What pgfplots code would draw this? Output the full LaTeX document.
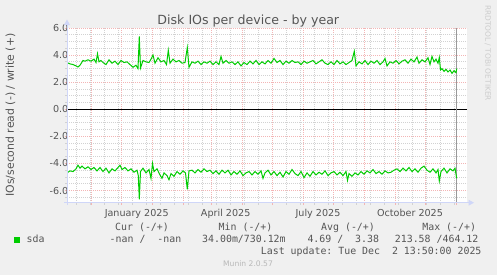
\documentclass[border=0pt]{standalone}
\usepackage{pgfplots}
\pgfplotsset{compat=1.18}
\usepackage{fontspec}
\setmainfont{DejaVu Sans}
\setmonofont{DejaVu Sans Mono}
\definecolor{bg}{HTML}{F0F0F0}
\definecolor{fnt}{HTML}{555555}
\definecolor{axisc}{HTML}{CFD6F8}
\definecolor{mgrid}{HTML}{F3B5B5}
\definecolor{mingrid}{HTML}{D2D2D2}
\definecolor{sda}{HTML}{00CC00}
\definecolor{rrdc}{HTML}{CCCCCC}
\definecolor{vrule}{HTML}{999999}
\begin{document}
\begin{tikzpicture}[x=1bp,y=1bp]
\fill[bg] (0,0) rectangle (497,275);
\begin{axis}[
  at={(67bp,72.3bp)}, anchor=south west,
  width=400bp, height=174.7bp, scale only axis,
  xmin=0, xmax=400, ymin=-6.9, ymax=6,
  axis background/.style={fill=white},
  axis x line*=bottom, axis y line*=left,
  axis line style={draw=none},
  xtick={24,54,85,116,144,175,205,236,266,297,328,358,389},
  xticklabels={},
  minor xtick={9.7,23.7,...,387.7},
  ytick={-6,-4,-2,0,2,4,6},
  yticklabels={-6.0,-4.0,-2.0,0.0,2.0,4.0,6.0},
  minor ytick={-6.5,-5.5,-5,-4.5,-3.5,-3,-2.5,-1.5,-1,-0.5,0.5,1,1.5,2.5,3,3.5,4.5,5,5.5},
  grid=both,
  major grid style={mgrid, line width=0.8bp, dash pattern=on 1bp off 1bp},
  minor grid style={mingrid, line width=0.8bp, dash pattern=on 1bp off 1bp},
  tick align=outside,
  major tick length=2.5bp, minor tick length=2bp,
  major tick style={mgrid, line width=0.8bp},
  minor tick style={mingrid, line width=0.8bp},
  tick label style={font=\fontsize{9.6bp}{11bp}\selectfont, text=fnt},
  yticklabel style={inner sep=0pt, xshift=4bp},
  extra x ticks={69.7,158.7,251,343},
  extra x tick labels={January 2025,April 2025,July 2025,October 2025},
  extra x tick style={grid=none, major tick length=0pt, xticklabel style={anchor=base, yshift=-13.5bp, inner sep=0pt}},
]
\addplot[black, line width=1bp] coordinates {(0,0) (400,0)};
\addplot[vrule, line width=1bp] coordinates {(389.7,-6.9) (389.7,6)};
% write (+)
\addplot[sda, line width=1bp, mark=none] coordinates {
(0,3.45) (3,3.35) (6,3.3) (9,3.2) (11,3.12) (13,3.25) (16,3.6) (18,3.55) (21,3.65) (24,3.55)
(27,3.7) (29,3.45) (30.5,4.1) (32,3.5) (34,3.6) (36,3.45) (39,3.3) (42,3.65) (45,3.4) (48,3.55)
(51,3.3) (54,3.6) (57,3.45) (60,3.5) (63,3.3) (66,3.1) (69,3.25) (71,3.0) (72.3,5.38) (73.5,3.05)
(76,3.6) (79,3.5) (82,3.45) (84,3.7) (86,4.0) (88,3.4) (91,3.8) (94,3.5) (97,3.6) (99.5,3.3)
(101.3,4.35) (103,3.4) (106,3.7) (109,3.5) (112,3.6) (115,3.4) (118,3.45) (120.3,4.55) (122,3.1) (125,3.5)
(128,3.4) (131,3.55) (134,3.3) (137,3.5) (140,3.4) (143,3.55) (146,3.3) (149,3.5) (152,3.3) (154,3.9)
(156,3.4) (159,3.6) (162,3.4) (165,3.5) (168,3.3) (171,3.5) (174,3.2) (177,3.45) (180,3.3) (183,3.55)
(186,3.35) (189,3.6) (192,3.3) (195,3.5) (198,3.35) (201,3.6) (204,3.4) (207,3.75) (210,3.45) (213,3.6)
(216,3.3) (219,3.55) (222,3.4) (225,3.6) (228,3.45) (231,3.5) (234,3.3) (237,3.55) (240,3.4) (243,3.5)
(246,3.6) (249,3.35) (252,3.5) (255,3.65) (258,3.4) (261,3.3) (264,3.5) (267,3.3) (270,3.6) (273,3.35)
(276,3.5) (279,3.3) (282,3.45) (285,3.6) (287.3,4.28) (289,3.2) (292,3.5) (295,3.35) (298,3.6) (301,3.3)
(304,3.55) (307,3.4) (310,3.6) (313,3.3) (316,3.5) (318,3.75) (320,3.2) (323,3.5) (326,3.4) (329,3.6)
(332,3.35) (335,3.55) (338,3.65) (341,3.4) (344,3.7) (347,3.5) (350,3.85) (352,3.4) (355,3.65) (358,3.5)
(361,3.8) (363,3.3) (365,3.9) (367,3.5) (369,3.7) (371,3.4) (372.3,3.82) (373.5,2.9) (375,3.0) (377,2.8)
(379,2.95) (381,2.75) (383,2.9) (385,2.65) (387,2.85) (389,2.7) (389.7,3.0)
};
% read (-)
\addplot[sda, line width=1bp, mark=none] coordinates {
(0,-4.7) (3,-4.55) (6,-4.6) (9,-4.4) (11,-4.13) (13,-4.35) (15,-4.2) (18,-4.4) (21,-4.25) (24,-4.45)
(27,-4.3) (30,-4.55) (33,-4.3) (36,-4.6) (39,-4.35) (42,-4.7) (45,-4.4) (48,-4.55) (51,-4.3) (53,-4.13)
(55,-4.45) (58,-4.3) (61,-4.55) (64,-4.4) (67,-4.65) (70,-4.5) (71.3,-4.9) (72.3,-6.66) (73.5,-4.6) (76,-4.35)
(79,-4.7) (82,-4.45) (84,-5.1) (85.5,-4.0) (87,-4.6) (90,-4.4) (93,-4.85) (95,-5.1) (97,-4.7) (100,-4.9)
(102,-5.2) (104,-4.75) (107,-4.95) (110,-4.6) (113,-4.8) (116,-4.55) (118.5,-4.7) (120.3,-5.92) (122,-4.55) (125,-4.5)
(128,-4.7) (131,-4.45) (134,-4.65) (137,-4.4) (140,-4.6) (143,-4.5) (146,-4.75) (149,-4.55) (152,-4.8) (155,-4.5)
(158,-4.7) (161,-4.5) (164,-4.85) (167,-4.6) (170,-4.8) (173,-4.55) (176,-4.9) (179,-4.7) (182,-4.6) (185,-4.85)
(188,-4.6) (191,-4.8) (194,-4.55) (196,-5.1) (198,-4.7) (201,-4.5) (204,-4.85) (207,-4.6) (210,-4.9) (213,-4.65)
(216,-5.0) (219,-4.6) (222,-4.8) (225,-4.45) (228,-4.75) (231,-4.9) (234,-4.6) (237,-5.05) (240,-4.7) (243,-4.95)
(246,-4.6) (249,-4.85) (252,-4.65) (255,-4.8) (258,-4.55) (261,-4.9) (264,-4.7) (267,-4.6) (270,-4.85) (273,-4.65)
(276,-4.9) (279,-4.6) (280.5,-5.25) (282,-4.75) (285,-4.95) (288,-4.7) (291,-4.85) (294,-4.6) (297,-4.8) (300,-4.55)
(303,-4.7) (306,-4.45) (309,-4.75) (312,-4.6) (315,-4.8) (318,-4.55) (321,-4.7) (324,-4.65) (327,-4.5) (330,-4.4)
(333,-4.6) (336,-4.35) (339,-4.55) (342,-4.3) (345,-4.6) (348,-4.4) (351,-4.65) (354,-4.35) (357,-4.2) (360,-4.5)
(363,-4.65) (366,-4.4) (369,-4.7) (371,-4.45) (372.3,-5.3) (374,-4.6) (377,-4.35) (380,-4.7) (383,-4.4) (386,-4.55)
(388,-4.35) (389.7,-5.1)
};
\end{axis}
% axis lines and arrows
\draw[axisc, line width=1bp] (67,70) -- (67,251);
\fill[axisc] (64,250) -- (70,250) -- (67,255.5) -- cycle;
\draw[axisc, line width=1bp] (64,72.3) -- (469,72.3);
\fill[axisc] (468.5,69.3) -- (468.5,75.3) -- (474,72.3) -- cycle;
% texts
\node[anchor=base, text=fnt, font=\fontsize{12.6bp}{14bp}\selectfont, inner sep=0pt] at (248.3,250.5) {Disk IOs per device - by year};
\node[rotate=90, text=fnt, font=\fontsize{10.9bp}{12bp}\selectfont, inner sep=0pt] at (10.5,160) {IOs/second read (-) / write (+)};
\node[rotate=-90, text=rrdc, font=\fontsize{7.45bp}{9bp}\selectfont, inner sep=0pt] at (487.7,222) {RRDTOOL / TOBI OETIKER};
\begin{scope}[every node/.style={anchor=base west, inner sep=0pt, text=fnt, font=\fontsize{9.9bp}{12bp}\ttfamily}]
\node at (115,44.3) {Cur (-/+)};
\node at (218.5,44.3) {Min (-/+)};
\node at (321,44.3) {Avg (-/+)};
\node at (422.2,44.3) {Max (-/+)};
\node at (26.5,32.7) {sda};
\node at (109.5,32.7) {-nan /\ \ -nan};
\node at (202,32.7) {34.00m/730.12m};
\node at (307.3,32.7) {4.69 /\ \ 3.38};
\node at (394.7,32.7) {213.58 /464.12};
\node at (260.7,21) {Last update: Tue Dec\ \ 2 13:50:00 2025};
\end{scope}
\fill[sda] (14,32.3) rectangle (20,38.3);
\node[anchor=base, text=rrdc!90!black, font=\fontsize{7.6bp}{9bp}\selectfont, inner sep=0pt] at (248,8.3) {Munin 2.0.57};
\pgfresetboundingbox
\useasboundingbox (0,0) rectangle (497,275);
\end{tikzpicture}
\end{document}
